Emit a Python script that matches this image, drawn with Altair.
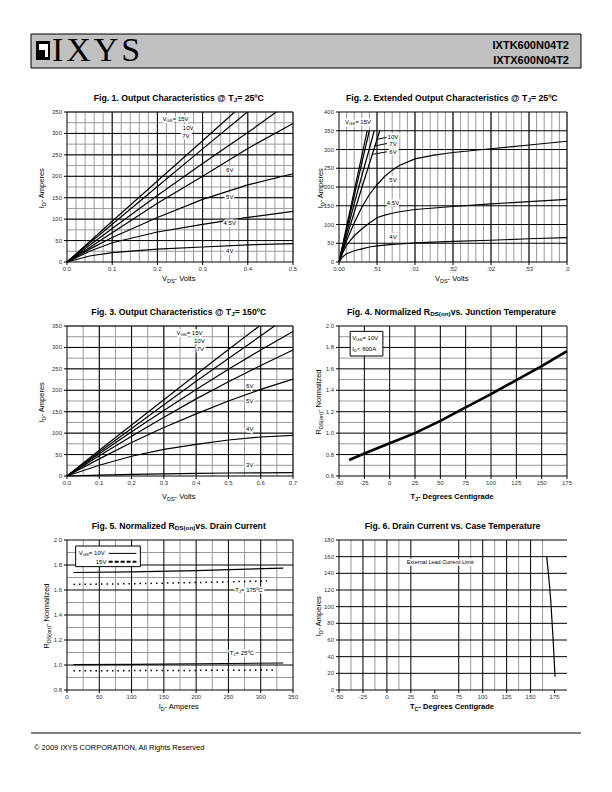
import altair as alt
import pandas as pd

FONT = "Liberation Sans"
SERIF = "Liberation Serif"

# ---------------- data ----------------
# Fig 1  (Tj = 25C, VDS 0..0.5)
F1_X = [0, 0.05, 0.1, 0.2, 0.3, 0.4, 0.5]
F1_4V = [0, 14, 22, 30, 35, 40, 43]
F1_45V = [0, 25, 45, 70, 88, 104, 118]
F1_5V = [0, 30, 57, 104, 146, 180, 206]
F1_6V = [0, 34, 68, 137, 200, 265, 323]
F1_7V_X = [0, 0.1, 0.2, 0.3, 0.4, 0.463]
F1_7V = [0, 78, 155, 230, 302, 350]
F1_10V_X = [0, 0.1, 0.2, 0.3, 0.399]
F1_10V = [0, 88, 176, 264, 350]
F1_15V_X = [0, 0.1, 0.2, 0.3, 0.371]
F1_15V = [0, 95, 189, 283, 350]

# Fig 2 (extended, VDS 0..3.0)
F2_X = [0, 0.05, 0.1, 0.2, 0.3, 0.4, 0.5, 0.6, 0.7, 0.8, 1.0, 1.25, 1.5, 2.0, 2.5, 3.0]
F2_5V = [0, 30, 57, 104, 146, 180, 206, 228, 245, 258, 275, 285, 292, 302, 312, 322]
F2_45V = [0, 25, 45, 70, 88, 104, 118, 125, 130, 134, 140, 144, 148, 155, 161, 167]
F2_4V = [0, 14, 22, 30, 35, 40, 43, 45, 47, 48, 51, 53, 55, 58, 62, 65]
F2_6V_X = [0, 0.1, 0.2, 0.3, 0.4, 0.536]
F2_6V = [0, 66, 132, 198, 262, 350]
F2_X_TICKS = [0, 0.5, 1.0, 1.5, 2.0, 2.5, 3.0]
F2_X_LABELS = ["0.00", ".51", ".01", ".52", ".02", ".53", ".0"]
# leader lines from the 10V / 7V / 6V labels to their curves
F2_LEAD_X1 = [0.50, 0.46, 0.44]
F2_LEAD_Y1 = [327, 309, 287]
F2_LEAD_X2 = [0.63, 0.63, 0.63]
F2_LEAD_Y2 = [333, 316, 294]

# Fig 3 (Tj = 150C, VDS 0..0.7)
F3_X = [0, 0.1, 0.2, 0.3, 0.4, 0.5, 0.6, 0.7]
F3_3V = [0, 2, 4, 5, 6, 7, 7.5, 8]
F3_4V = [0, 25, 46, 62, 74, 84, 91, 95]
F3_5V = [0, 40, 78, 113, 145, 175, 202, 226]
F3_6V = [0, 47, 93, 137, 180, 220, 258, 294]
F3_7V = [0, 52, 103, 153, 202, 249, 294, 337]
F3_10V_X = [0, 0.1, 0.2, 0.3, 0.4, 0.5, 0.6, 0.643]
F3_10V = [0, 56, 111, 166, 221, 274, 327, 350]
F3_15V_X = [0, 0.1, 0.2, 0.3, 0.4, 0.5, 0.596]
F3_15V = [0, 60, 119, 178, 237, 295, 350]

# Fig 4 (RDS(on) vs Tj)
F4_T = [-40, -25, 0, 25, 50, 75, 100, 125, 150, 175]
F4_R = [0.75, 0.81, 0.905, 1.0, 1.115, 1.24, 1.365, 1.495, 1.625, 1.765]

# Fig 5 (RDS(on) vs ID)
F5_ID_SOLID = [10, 100, 200, 335]
F5_ID_DOT175 = [10, 100, 200, 310]
F5_ID_DOT25 = [10, 100, 200, 325]
F5_175_10V = [1.74, 1.745, 1.755, 1.775]
F5_175_15V = [1.645, 1.65, 1.66, 1.672]
F5_25_10V = [1.003, 1.005, 1.01, 1.016]
F5_25_15V = [0.955, 0.955, 0.957, 0.96]

# Fig 6 (ID vs Tc)
F6_TC = [166.8, 169, 171, 172.5, 174, 175.5]
F6_ID = [160, 135, 108, 80, 50, 16]

# ---------------- text width helper ----------------
REG = {' ': 278, '(': 333, ')': 333, ',': 278, '-': 333, '.': 278, '<': 584, '=': 584, '@': 1015,
       'º': 365, '©': 737}
for c in '0123456789':
    REG[c] = 556
REG.update(dict(zip('ABCDEFGHIJKLMNOPQRSTUVWXYZ',
                    [667, 667, 722, 722, 667, 611, 778, 722, 278, 500, 667, 556, 833, 722, 778, 667, 778, 722, 667, 611, 722, 667, 944, 667, 667, 611])))
REG.update(dict(zip('abcdefghijklmnopqrstuvwxyz',
                    [556, 556, 500, 556, 556, 278, 556, 556, 222, 222, 500, 222, 833, 556, 556, 556, 556, 333, 500, 278, 556, 500, 722, 500, 500, 500])))
BOLD = dict(REG)
BOLD.update({'@': 975})
BOLD.update(dict(zip('ABCDEFGHIJKLMNOPQRSTUVWXYZ',
                     [722, 722, 722, 722, 667, 611, 778, 722, 278, 556, 722, 611, 833, 722, 778, 667, 778, 722, 667, 611, 722, 667, 944, 667, 667, 611])))
BOLD.update(dict(zip('abcdefghijklmnopqrstuvwxyz',
                     [556, 611, 556, 611, 556, 333, 611, 611, 278, 278, 556, 278, 889, 611, 611, 611, 611, 389, 556, 333, 611, 556, 778, 556, 556, 500])))

ONE = pd.DataFrame({"k": [0]})


def tw(s, size, bold=False):
    tbl = BOLD if bold else REG
    return sum(tbl.get(c, 556) for c in s) / 1000.0 * size


def rich(segs, x, y, size, bold=False, angle=0, align="center", color="black", halo=False):
    sub = 0.72
    widths = [tw(t, size * (sub if s else 1), bold) for t, s in segs]
    total = sum(widths)
    off = {"center": -total / 2, "left": 0, "right": -total}[align]
    halos, texts = [], []
    for (t, s), w in zip(segs, widths):
        kw = dict(text=t, align="left", baseline="middle", fontSize=size * (sub if s else 1),
                  font=FONT, fontWeight="bold" if bold else "normal",
                  angle=angle, dx=off, dy=size * 0.3 if s else 0)
        if halo:
            halos.append(alt.Chart(ONE).mark_text(color="white", stroke="white", strokeWidth=3, **kw)
                         .encode(x=x, y=y))
        texts.append(alt.Chart(ONE).mark_text(color=color, **kw).encode(x=x, y=y))
        off += w
    return halos + texts


def dx_(v):
    return alt.XDatum(v, axis=None)


def dy_(v):
    return alt.YDatum(v, axis=None)


def series_df(named):
    rows = []
    for name, xs, ys in named:
        for i, (a, b) in enumerate(zip(xs, ys)):
            rows.append({"s": name, "i": i, "x": a, "y": b})
    return pd.DataFrame(rows)


def steps(a, b, st):
    out, v = [], a
    while v <= b + 1e-9:
        out.append(round(v, 6))
        v += st
    return out


def grid_layers(xminor, xmajor, yminor, ymajor):
    L = []
    if xminor:
        L.append(alt.Chart(pd.DataFrame({"v": xminor})).mark_rule(color="#9a9a9a", strokeWidth=1)
                 .encode(x=alt.X("v:Q", axis=None)))
    if yminor:
        L.append(alt.Chart(pd.DataFrame({"v": yminor})).mark_rule(color="#9a9a9a", strokeWidth=1)
                 .encode(y=alt.Y("v:Q", axis=None)))
    if xmajor:
        L.append(alt.Chart(pd.DataFrame({"v": xmajor})).mark_rule(color="black", strokeWidth=1)
                 .encode(x=alt.X("v:Q", axis=None)))
    if ymajor:
        L.append(alt.Chart(pd.DataFrame({"v": ymajor})).mark_rule(color="black", strokeWidth=1)
                 .encode(y=alt.Y("v:Q", axis=None)))
    return L


def axis_layers(w, xvals, xtexts, yvals, ytexts):
    L = []
    dfx = pd.DataFrame({"v": xvals, "t": xtexts})
    dfy = pd.DataFrame({"v": yvals, "t": ytexts})
    L.append(alt.Chart(dfx).mark_rule(color="black", strokeWidth=1).encode(
        x=alt.X("v:Q", axis=None), y=alt.value(H), y2=alt.value(H + 3)))
    L.append(alt.Chart(dfy).mark_rule(color="black", strokeWidth=1).encode(
        y=alt.Y("v:Q", axis=None), x=alt.value(-3), x2=alt.value(0)))
    L.append(alt.Chart(ONE).mark_rule(color="black", strokeWidth=1).encode(
        x=alt.value(0), y=alt.value(0), y2=alt.value(H)))
    L.append(alt.Chart(ONE).mark_rule(color="black", strokeWidth=1).encode(
        x=alt.value(0), x2=alt.value(w), y=alt.value(H)))
    L.append(alt.Chart(dfx).mark_text(font=FONT, fontSize=6, color="#333", align="center", baseline="middle")
             .encode(x=alt.X("v:Q", axis=None), y=alt.value(H + 7), text="t:N"))
    L.append(alt.Chart(dfy).mark_text(font=FONT, fontSize=6, color="#333", align="right", baseline="middle")
             .encode(y=alt.Y("v:Q", axis=None), x=alt.value(-5), text="t:N"))
    return L


def lines_layer(df, xdom, ydom, width=1.2, dash=None):
    kw = {"strokeWidth": width, "color": "black"}
    if dash:
        kw["strokeDash"] = dash
    return alt.Chart(df).mark_line(**kw).encode(
        x=alt.X("x:Q", scale=alt.Scale(domain=xdom, nice=False, zero=False), axis=None),
        y=alt.Y("y:Q", scale=alt.Scale(domain=ydom, nice=False, zero=False), axis=None),
        detail="s:N", order="i:Q")


def fmt(vals, f):
    return [f.format(v) for v in vals]


W, H = 226, 150
W2 = 228
VDS = [("V", 0), ("DS", 1), (" - Volts", 0)]
IDA = [("I", 0), ("D", 1), (" - Amperes", 0)]
RDS = [("R", 0), ("DS(on)", 1), (" - Normalized", 0)]


def titles(w, title_segs, xsegs, ysegs, xt_dy=17, yt_dx=-22, xbold=False):
    L = []
    L += rich(title_segs, alt.value(w / 2), alt.value(-14.5), 8.7, bold=True)
    L += rich(xsegs, alt.value(w / 2), alt.value(H + xt_dy), 7.5, bold=xbold)
    L += rich(ysegs, alt.value(yt_dx), alt.value(H / 2), 7.5, angle=270)
    return L


def lab(segs, x, y, size=6, align="center", halo=True):
    return rich(segs, dx_(x), dy_(y), size, align=align, halo=halo)


# ---------------- Fig 1 ----------------
df1 = series_df([("4", F1_X, F1_4V), ("45", F1_X, F1_45V), ("5", F1_X, F1_5V), ("6", F1_X, F1_6V),
                 ("7", F1_7V_X, F1_7V), ("10", F1_10V_X, F1_10V), ("15", F1_15V_X, F1_15V)])
L1 = [lines_layer(df1, [0, 0.5], [0, 350], width=0)]
L1 += grid_layers(steps(0.02, 0.5, 0.02), steps(0.1, 0.5, 0.1), steps(25, 350, 25), steps(50, 350, 50))
L1 += axis_layers(W, steps(0, 0.5, 0.1), fmt(steps(0, 0.5, 0.1), "{:.1f}"), steps(0, 350, 50),
                  fmt(steps(0, 350, 50), "{:.0f}"))
L1.append(lines_layer(df1, [0, 0.5], [0, 350]))
L1 += lab([("V", 0), ("GS", 1), (" = 15V", 0)], 0.242, 334)
L1 += lab([("10V", 0)], 0.268, 313)
L1 += lab([("7V", 0)], 0.263, 295)
L1 += lab([("6V", 0)], 0.36, 214)
L1 += lab([("5V", 0)], 0.36, 151)
L1 += lab([("4.5V", 0)], 0.36, 92)
L1 += lab([("4V", 0)], 0.36, 26)
L1 += titles(W, [("Fig. 1. Output Characteristics @ T", 0), ("J", 1), (" = 25ºC", 0)], VDS, IDA, 17, -25)
# page header (drawn in the first panel's frame)
L1.append(alt.Chart(ONE).mark_rect(fill="#c0c0c0", stroke="black", strokeWidth=1).encode(
    x=alt.value(-36), x2=alt.value(514), y=alt.value(-78), y2=alt.value(-44)))
L1.append(alt.Chart(ONE).mark_rect(fill="black").encode(
    x=alt.value(-31), x2=alt.value(-17), y=alt.value(-71), y2=alt.value(-52)))
L1.append(alt.Chart(ONE).mark_rect(fill="white").encode(
    x=alt.value(-28), x2=alt.value(-19), y=alt.value(-68), y2=alt.value(-55)))
L1.append(alt.Chart(ONE).mark_rect(fill="black").encode(
    x=alt.value(-28), x2=alt.value(-22), y=alt.value(-62), y2=alt.value(-55)))
for ch, cx in zip("IXYS", [-9.3, 11.5, 39.0, 63.8]):
    L1.append(alt.Chart(ONE).mark_text(text=ch, font=SERIF, fontSize=34, align="center", baseline="alphabetic")
              .encode(x=alt.value(cx), y=alt.value(-51)))
L1.append(alt.Chart(ONE).mark_text(text="IXTK600N04T2", font=FONT, fontWeight="bold", fontSize=11,
                                   align="right", baseline="alphabetic").encode(x=alt.value(502), y=alt.value(-63)))
L1.append(alt.Chart(ONE).mark_text(text="IXTX600N04T2", font=FONT, fontWeight="bold", fontSize=11,
                                   align="right", baseline="alphabetic").encode(x=alt.value(502), y=alt.value(-48)))
fig1 = alt.layer(*L1).properties(width=W, height=H)

# ---------------- Fig 2 ----------------
df2 = series_df([("4", F2_X, F2_4V), ("45", F2_X, F2_45V), ("5", F2_X, F2_5V), ("6", F2_6V_X, F2_6V),
                 ("7", F1_7V_X, F1_7V), ("10", F1_10V_X, F1_10V), ("15", F1_15V_X, F1_15V)])
lead2 = pd.DataFrame({"x1": F2_LEAD_X1, "y1": F2_LEAD_Y1, "x2": F2_LEAD_X2, "y2": F2_LEAD_Y2})
L2 = [lines_layer(df2, [0, 3.0], [0, 400], width=0)]
L2 += grid_layers(steps(0.1, 3.0, 0.1), steps(0.5, 3.0, 0.5), [], steps(50, 400, 50))
L2 += axis_layers(W2, F2_X_TICKS, F2_X_LABELS, steps(0, 400, 50), fmt(steps(0, 400, 50), "{:.0f}"))
L2.append(lines_layer(df2, [0, 3.0], [0, 400]))
L2.append(alt.Chart(lead2).mark_rule(color="black", strokeWidth=1).encode(
    x=alt.X("x1:Q", axis=None), y=alt.Y("y1:Q", axis=None), x2="x2:Q", y2="y2:Q"))
L2 += lab([("V", 0), ("GS", 1), (" = 15V", 0)], 0.26, 374)
L2 += lab([("10V", 0)], 0.71, 333)
L2 += lab([("7V", 0)], 0.71, 316)
L2 += lab([("6V", 0)], 0.71, 294)
L2 += lab([("5V", 0)], 0.71, 220)
L2 += lab([("4.5V", 0)], 0.71, 158)
L2 += lab([("4V", 0)], 0.71, 67)
L2 += titles(W2, [("Fig. 2. Extended Output Characteristics @ T", 0), ("J", 1), (" = 25ºC", 0)], VDS, IDA, 17, -18)
fig2 = alt.layer(*L2).properties(width=W2, height=H)

# ---------------- Fig 3 ----------------
df3 = series_df([("3", F3_X, F3_3V), ("4", F3_X, F3_4V), ("5", F3_X, F3_5V), ("6", F3_X, F3_6V),
                 ("7", F3_X, F3_7V), ("10", F3_10V_X, F3_10V), ("15", F3_15V_X, F3_15V)])
L3 = [lines_layer(df3, [0, 0.7], [0, 350], width=0)]
L3 += grid_layers(steps(0.05, 0.7, 0.05), steps(0.1, 0.7, 0.1), steps(25, 350, 25), steps(50, 350, 50))
L3 += axis_layers(W, steps(0, 0.7, 0.1), fmt(steps(0, 0.7, 0.1), "{:.1f}"), steps(0, 350, 50),
                  fmt(steps(0, 350, 50), "{:.0f}"))
L3.append(lines_layer(df3, [0, 0.7], [0, 350]))
L3 += lab([("V", 0), ("GS", 1), (" = 15V", 0)], 0.382, 334)
L3 += lab([("10V", 0)], 0.41, 314)
L3 += lab([("7V", 0)], 0.413, 296)
L3 += lab([("6V", 0)], 0.566, 209)
L3 += lab([("5V", 0)], 0.566, 176)
L3 += lab([("4V", 0)], 0.566, 110)
L3 += lab([("3V", 0)], 0.566, 25)
L3 += titles(W, [("Fig. 3. Output Characteristics @ T", 0), ("J", 1), (" = 150ºC", 0)], VDS, IDA, 20.5, -25)
fig3 = alt.layer(*L3).properties(width=W, height=H)

# ---------------- Fig 4 ----------------
df4 = series_df([("r", F4_T, F4_R)])
L4 = [lines_layer(df4, [-50, 175], [0.6, 2.0], width=0)]
L4 += grid_layers([], steps(-25, 175, 25), steps(0.7, 1.9, 0.2), steps(0.8, 2.0, 0.2))
L4 += axis_layers(W2, steps(-50, 175, 25), fmt(steps(-50, 175, 25), "{:.0f}"), steps(0.6, 2.0, 0.2),
                  fmt(steps(0.6, 2.0, 0.2), "{:.1f}"))
L4.append(lines_layer(df4, [-50, 175], [0.6, 2.0], width=2.6))
L4.append(alt.Chart(ONE).mark_rect(fill="white", stroke="black", strokeWidth=1).encode(
    x=dx_(-39), x2=alt.X2Datum(-6.7), y=dy_(1.95), y2=alt.Y2Datum(1.72)))
L4 += rich([("V", 0), ("GS", 1), (" = 10V", 0)], dx_(-37), dy_(1.89), 6, align="left")
L4 += rich([("I", 0), ("D", 1), (" < 600A", 0)], dx_(-37), dy_(1.785), 6, align="left")
L4 += titles(W2, [("Fig. 4. Normalized R", 0), ("DS(on)", 1), (" vs. Junction Temperature", 0)],
             [("T", 0), ("J", 1), (" - Degrees Centigrade", 0)], RDS, 20.5, -20, xbold=True)
fig4 = alt.layer(*L4).properties(width=W2, height=H)

# ---------------- Fig 5 ----------------
df5s = series_df([("a", F5_ID_SOLID, F5_175_10V), ("b", F5_ID_SOLID, F5_25_10V)])
df5d = series_df([("c", F5_ID_DOT175, F5_175_15V), ("d", F5_ID_DOT25, F5_25_15V)])
L5 = [lines_layer(df5s, [0, 350], [0.8, 2.0], width=0)]
L5 += grid_layers(steps(25, 325, 50), steps(50, 350, 50), steps(0.9, 1.9, 0.2), steps(1.0, 2.0, 0.2))
L5 += axis_layers(W, steps(0, 350, 50), fmt(steps(0, 350, 50), "{:.0f}"), steps(0.8, 2.0, 0.2),
                  fmt(steps(0.8, 2.0, 0.2), "{:.1f}"))
L5.append(lines_layer(df5s, [0, 350], [0.8, 2.0]))
L5.append(lines_layer(df5d, [0, 350], [0.8, 2.0], width=1.5, dash=[1.5, 4]))
L5.append(alt.Chart(ONE).mark_rect(fill="white", stroke="black", strokeWidth=1).encode(
    x=dx_(13.4), x2=alt.X2Datum(113.6), y=dy_(1.952), y2=alt.Y2Datum(1.787)))
L5 += rich([("V", 0), ("GS", 1), (" = 10V", 0)], dx_(61), dy_(1.893), 6, align="right")
L5 += rich([("15V", 0)], dx_(61), dy_(1.827), 6, align="right")
L5.append(alt.Chart(ONE).mark_rule(color="black", strokeWidth=1).encode(
    x=dx_(64.5), x2=alt.X2Datum(107.5), y=dy_(1.893)))
L5.append(alt.Chart(ONE).mark_rule(color="black", strokeWidth=2, strokeDash=[4, 2]).encode(
    x=dx_(64.5), x2=alt.X2Datum(107.5), y=dy_(1.827)))
L5 += lab([("T", 0), ("J", 1), (" = 175ºC", 0)], 283, 1.6)
L5 += lab([("T", 0), ("J", 1), (" = 25ºC", 0)], 272, 1.093)
L5 += titles(W, [("Fig. 5. Normalized R", 0), ("DS(on)", 1), (" vs. Drain Current", 0)],
             [("I", 0), ("D", 1), (" - Amperes", 0)], RDS, 17, -20)
# page footer
L5.append(alt.Chart(ONE).mark_rule(color="black", strokeWidth=1).encode(
    x=alt.value(-36), x2=alt.value(514), y=alt.value(193)))
L5.append(alt.Chart(ONE).mark_text(text="© 2009 IXYS CORPORATION, All Rights Reserved", font=FONT, fontSize=7.5,
                                   align="left", baseline="middle").encode(x=alt.value(-33), y=alt.value(208)))
fig5 = alt.layer(*L5).properties(width=W, height=H)

# ---------------- Fig 6 ----------------
df6 = series_df([("i", F6_TC, F6_ID)])
L6 = [lines_layer(df6, [-50, 188], [0, 180], width=0)]
L6 += grid_layers([-37.5, -12.5, 12.5, 87.5, 112.5, 137.5, 162.5], [-25, 0, 25, 75, 100, 125, 150],
                  [], steps(20, 180, 20))
L6 += axis_layers(W2, steps(-50, 175, 25), fmt(steps(-50, 175, 25), "{:.0f}"), steps(0, 180, 20),
                  fmt(steps(0, 180, 20), "{:.0f}"))
L6.append(lines_layer(df6, [-50, 188], [0, 180]))
L6 += rich([("External Lead Current Limit", 0)], dx_(55.6), dy_(154), 5.5, halo=True)
L6 += titles(W2, [("Fig. 6. Drain Current vs. Case Temperature", 0)],
             [("T", 0), ("C", 1), (" - Degrees Centigrade", 0)], IDA, 17, -20, xbold=True)
fig6 = alt.layer(*L6).properties(width=W2, height=H)

chart = alt.concat(fig1, fig2, fig3, fig4, fig5, fig6, columns=2,
                   spacing={"row": 64, "column": 46}, bounds="flush").properties(
    padding={"left": 30, "top": 33, "right": 10, "bottom": 10}
).configure_view(stroke=None)

chart.save("out.html", embed_options={"renderer": "svg", "actions": False})
